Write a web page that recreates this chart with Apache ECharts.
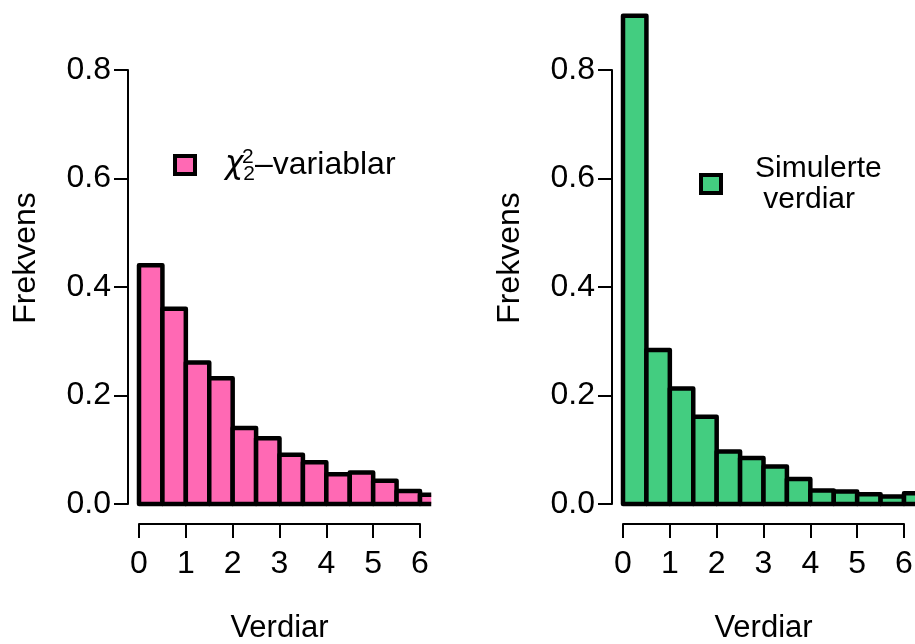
<!DOCTYPE html>
<html><head><meta charset="utf-8">
<script src="https://cdn.jsdelivr.net/npm/echarts@6/dist/echarts.min.js"></script>
<style>html,body{margin:0;padding:0;background:#fff}#c{width:915px;height:644px}</style>
</head><body><div id="c"></div>
<script>
// ---- data ----
const binEdges = [0, 0.5, 1, 1.5, 2, 2.5, 3, 3.5, 4, 4.5, 5, 5.5, 6, 6.5];
const chiFreq = [0.44, 0.36, 0.261, 0.232, 0.14, 0.121, 0.091, 0.077, 0.055, 0.058, 0.043, 0.024, 0.017];
const simFreq = [0.90, 0.284, 0.213, 0.161, 0.097, 0.085, 0.069, 0.046, 0.025, 0.023, 0.018, 0.014, 0.020];
const xTickLabels = ['0', '1', '2', '3', '4', '5', '6'];
const yTickLabels = ['0.0', '0.2', '0.4', '0.6', '0.8'];
const seriesNames = ['χ²₂–variablar', 'Simulerte\n verdiar'];
const xTitle = 'Verdiar';
const yTitle = 'Frekvens';

// ---- config ----
const PLOT_X_MAX = 6.24; // plot region edge (R style range extension)
const FONT = "'Liberation Sans', Arial, Helvetica, sans-serif";
const COLORS = ['#FF69B4', '#43CD80'];

function binData(freq) {
  return freq.map((v, i) => [binEdges[i], binEdges[i + 1], v]);
}

function renderBar(params, api) {
  const x0 = api.value(0), x1 = api.value(1), v = api.value(2);
  const bl = api.coord([x0, 0]);
  const tr = api.coord([x1, v]);
  const limit = api.coord([PLOT_X_MAX, 0])[0];
  const left = bl[0], bottom = bl[1], top = tr[1];
  let right = tr[0];
  const color = api.visual('color');
  if (left >= limit) return null;
  const stroke = { stroke: '#000', lineWidth: 4.5, lineJoin: 'round' };
  if (right <= limit) {
    return { type: 'rect', shape: { x: left, y: top, width: right - left, height: bottom - top },
      style: Object.assign({ fill: color }, stroke) };
  }
  right = limit;
  return { type: 'group', children: [
    { type: 'rect', shape: { x: left, y: top, width: right - left, height: bottom - top }, style: { fill: color } },
    { type: 'polyline', shape: { points: [[right, bottom], [left, bottom], [left, top], [right, top]] },
      style: Object.assign({ fill: null }, stroke) }
  ]};
}

const chart = echarts.init(document.getElementById('c'));
const gridLefts = [139, 623];

function xAxisFor(i) {
  return {
    type: 'value', gridIndex: i, min: 0, max: 6, interval: 1, offset: 20,
    axisLine: { show: true, onZero: false, lineStyle: { color: '#000', width: 2 } },
    axisTick: { show: true, length: 14, lineStyle: { color: '#000', width: 2 } },
    axisLabel: { color: '#000', fontSize: 32, fontFamily: FONT, margin: 24,
      formatter: v => xTickLabels[Math.round(v)] },
    splitLine: { show: false },
    name: xTitle, nameLocation: 'middle', nameGap: 89,
    nameTextStyle: { color: '#000', fontSize: 31, fontFamily: FONT }
  };
}
function yAxisFor(i) {
  return {
    type: 'value', gridIndex: i, min: 0, max: 0.8, interval: 0.2, offset: 11,
    axisLine: { show: true, onZero: false, lineStyle: { color: '#000', width: 2 } },
    axisTick: { show: true, length: 14, lineStyle: { color: '#000', width: 2 } },
    axisLabel: { color: '#000', fontSize: 32, fontFamily: FONT, margin: 17,
      formatter: v => yTickLabels[Math.round(v / 0.2)] },
    splitLine: { show: false },
    name: yTitle, nameLocation: 'middle', nameGap: 86, nameRotate: 90,
    nameTextStyle: { color: '#000', fontSize: 32, fontFamily: FONT, padding: [0, 0, 0, 58] }
  };
}

const option = {
  backgroundColor: '#fff',
  animation: false,
  grid: gridLefts.map(l => ({ left: l, top: 70, width: 281, height: 434, containLabel: false, outerBoundsMode: 'none' })),
  xAxis: [xAxisFor(0), xAxisFor(1)],
  yAxis: [yAxisFor(0), yAxisFor(1)],
  legend: [
    {
      data: [seriesNames[0]], left: 173, top: 149, padding: 0, orient: 'vertical',
      icon: 'rect', itemWidth: 20, itemHeight: 18,
      itemStyle: { borderColor: '#000', borderWidth: 4 },
      formatter: () => '{chi|χ}{sub|2}{txt|–variablar}',
      textStyle: { color: '#000', fontFamily: FONT, rich: {
        chi: { fontSize: 31, fontFamily: "'DejaVu Sans'", fontStyle: 'italic', lineHeight: 40, padding: [0, 0, 0, 25], color: '#000' },
        sub: { fontSize: 21, fontFamily: FONT, lineHeight: 21, verticalAlign: 'bottom', color: '#000' },
        txt: { fontSize: 32, fontFamily: FONT, lineHeight: 40, color: '#000' }
      } }
    },
    {
      data: [seriesNames[1]], left: 699, top: 149, padding: 0, orient: 'vertical',
      icon: 'rect', itemWidth: 20, itemHeight: 18,
      itemStyle: { borderColor: '#000', borderWidth: 4 },
      textStyle: { color: '#000', fontFamily: FONT, fontSize: 30, lineHeight: 31, padding: [0, 0, 8, 29] }
    }
  ],
  graphic: [
    { type: 'text', left: 242, top: 147, style: { text: '2', fontSize: 21, fontFamily: FONT, fill: '#000' } }
  ],
  series: [
    { type: 'custom', name: seriesNames[0], xAxisIndex: 0, yAxisIndex: 0, clip: false,
      itemStyle: { color: COLORS[0] }, renderItem: renderBar,
      encode: { x: [0, 1], y: 2 }, data: binData(chiFreq) },
    { type: 'custom', name: seriesNames[1], xAxisIndex: 1, yAxisIndex: 1, clip: false,
      itemStyle: { color: COLORS[1] }, renderItem: renderBar,
      encode: { x: [0, 1], y: 2 }, data: binData(simFreq) }
  ]
};
chart.setOption(option);
</script>
</body></html>
